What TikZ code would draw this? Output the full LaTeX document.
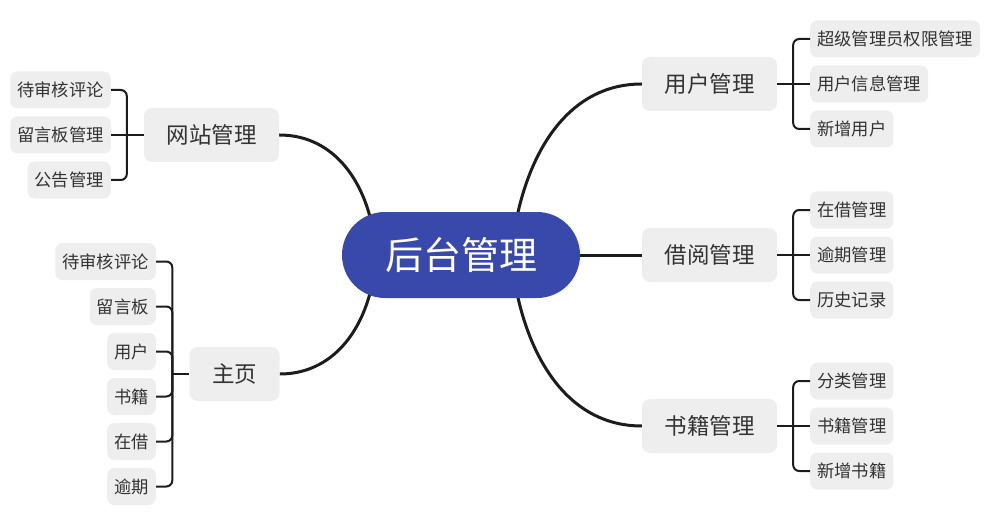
\documentclass[tikz,border=0pt]{standalone}
\usepackage{fontspec}
\newfontfamily\cjk{Noto Sans CJK SC}
\usetikzlibrary{positioning,backgrounds}
\definecolor{rootblue}{RGB}{57,73,171}
\definecolor{boxgray}{RGB}{238,238,238}
\definecolor{inkgray}{RGB}{28,28,28}
\tikzset{
  box/.style={fill=boxgray, rounded corners=8pt, align=center, inner ysep=0pt, text=black!80},
  root/.style={box, fill=rootblue, text=white, rounded corners=43pt, minimum height=86pt, inner xsep=43pt, font=\cjk\fontsize{38}{40}\selectfont},
  topic/.style={box, minimum height=54pt, inner xsep=22.5pt, font=\cjk\fontsize{22.5}{26}\selectfont},
  leaf/.style={box, minimum height=37pt, inner xsep=7pt, rounded corners=7pt, font=\cjk\fontsize{17.3}{20}\selectfont},
  branch/.style={draw=inkgray, line width=3pt},
  twig/.style={draw=inkgray, line width=2pt, rounded corners=6pt},
}
\begin{document}
\begin{tikzpicture}[x=1pt, y=-1pt]
  \useasboundingbox (0,0) rectangle (995,513);
  \node[root] (root) at (461,255) {后台管理};
  \node[topic] (yhgl) at (709.5,84) {用户管理};
  \node[topic] (jygl) at (709.5,255) {借阅管理};
  \node[topic] (sjgl) at (709.5,426) {书籍管理};
  \node[topic] (wzgl) at (211.5,135) {网站管理};
  \node[topic] (zhuye) at (234.5,374) {主页};

  % Right leaves
  \node[leaf, anchor=west] (yh1) at (810,39) {超级管理员权限管理};
  \node[leaf, anchor=west] (yh2) at (810,84) {用户信息管理};
  \node[leaf, anchor=west] (yh3) at (810,129) {新增用户};
  \node[leaf, anchor=west] (jy1) at (810,210) {在借管理};
  \node[leaf, anchor=west] (jy2) at (810,255) {逾期管理};
  \node[leaf, anchor=west] (jy3) at (810,300) {历史记录};
  \node[leaf, anchor=west] (sj1) at (810,381) {分类管理};
  \node[leaf, anchor=west] (sj2) at (810,426) {书籍管理};
  \node[leaf, anchor=west] (sj3) at (810,471) {新增书籍};

  % Left leaves
  \node[leaf, anchor=east] (wz1) at (111,90) {待审核评论};
  \node[leaf, anchor=east] (wz2) at (111,135) {留言板管理};
  \node[leaf, anchor=east] (wz3) at (111,180) {公告管理};
  \node[leaf, anchor=east] (zy1) at (156,261.5) {待审核评论};
  \node[leaf, anchor=east] (zy2) at (156,306.5) {留言板};
  \node[leaf, anchor=east] (zy3) at (156,351.5) {用户};
  \node[leaf, anchor=east] (zy4) at (156,396.5) {书籍};
  \node[leaf, anchor=east] (zy5) at (156,441.5) {在借};
  \node[leaf, anchor=east] (zy6) at (156,486.5) {逾期};

  % Main branches
  \begin{scope}[on background layer]
    \draw[branch] ([xshift=-91pt,yshift=-5pt]root.north) to[out=105,in=0] (wzgl.east);
    \draw[branch] ([xshift=56pt,yshift=-5pt]root.north) to[out=78,in=180] (yhgl.west);
    \draw[branch] (root.east) -- (jygl.west);
    \draw[branch] ([xshift=56pt,yshift=5pt]root.south) to[out=-78,in=180] (sjgl.west);
    \draw[branch] ([xshift=-91pt,yshift=5pt]root.south) to[out=-105,in=0] (zhuye.east);
  \end{scope}

  % Brackets
  \draw[twig] (yhgl.east) -- (yh2.west);
  \draw[twig] ([xshift=16pt]yhgl.east) |- (yh1.west);
  \draw[twig] ([xshift=16pt]yhgl.east) |- (yh3.west);
  \draw[twig] (jygl.east) -- (jy2.west);
  \draw[twig] ([xshift=16pt]jygl.east) |- (jy1.west);
  \draw[twig] ([xshift=16pt]jygl.east) |- (jy3.west);
  \draw[twig] (sjgl.east) -- (sj2.west);
  \draw[twig] ([xshift=16pt]sjgl.east) |- (sj1.west);
  \draw[twig] ([xshift=16pt]sjgl.east) |- (sj3.west);
  \draw[twig] (wzgl.west) -- (wz2.east);
  \draw[twig] ([xshift=-17pt]wzgl.west) |- (wz1.east);
  \draw[twig] ([xshift=-17pt]wzgl.west) |- (wz3.east);
  \draw[twig] (zhuye.west) -- ([xshift=-17pt]zhuye.west);
  \foreach \n in {zy1,zy2,zy3,zy4,zy5,zy6}
    \draw[twig] ([xshift=-17pt]zhuye.west) |- (\n.east);
\end{tikzpicture}
\end{document}
